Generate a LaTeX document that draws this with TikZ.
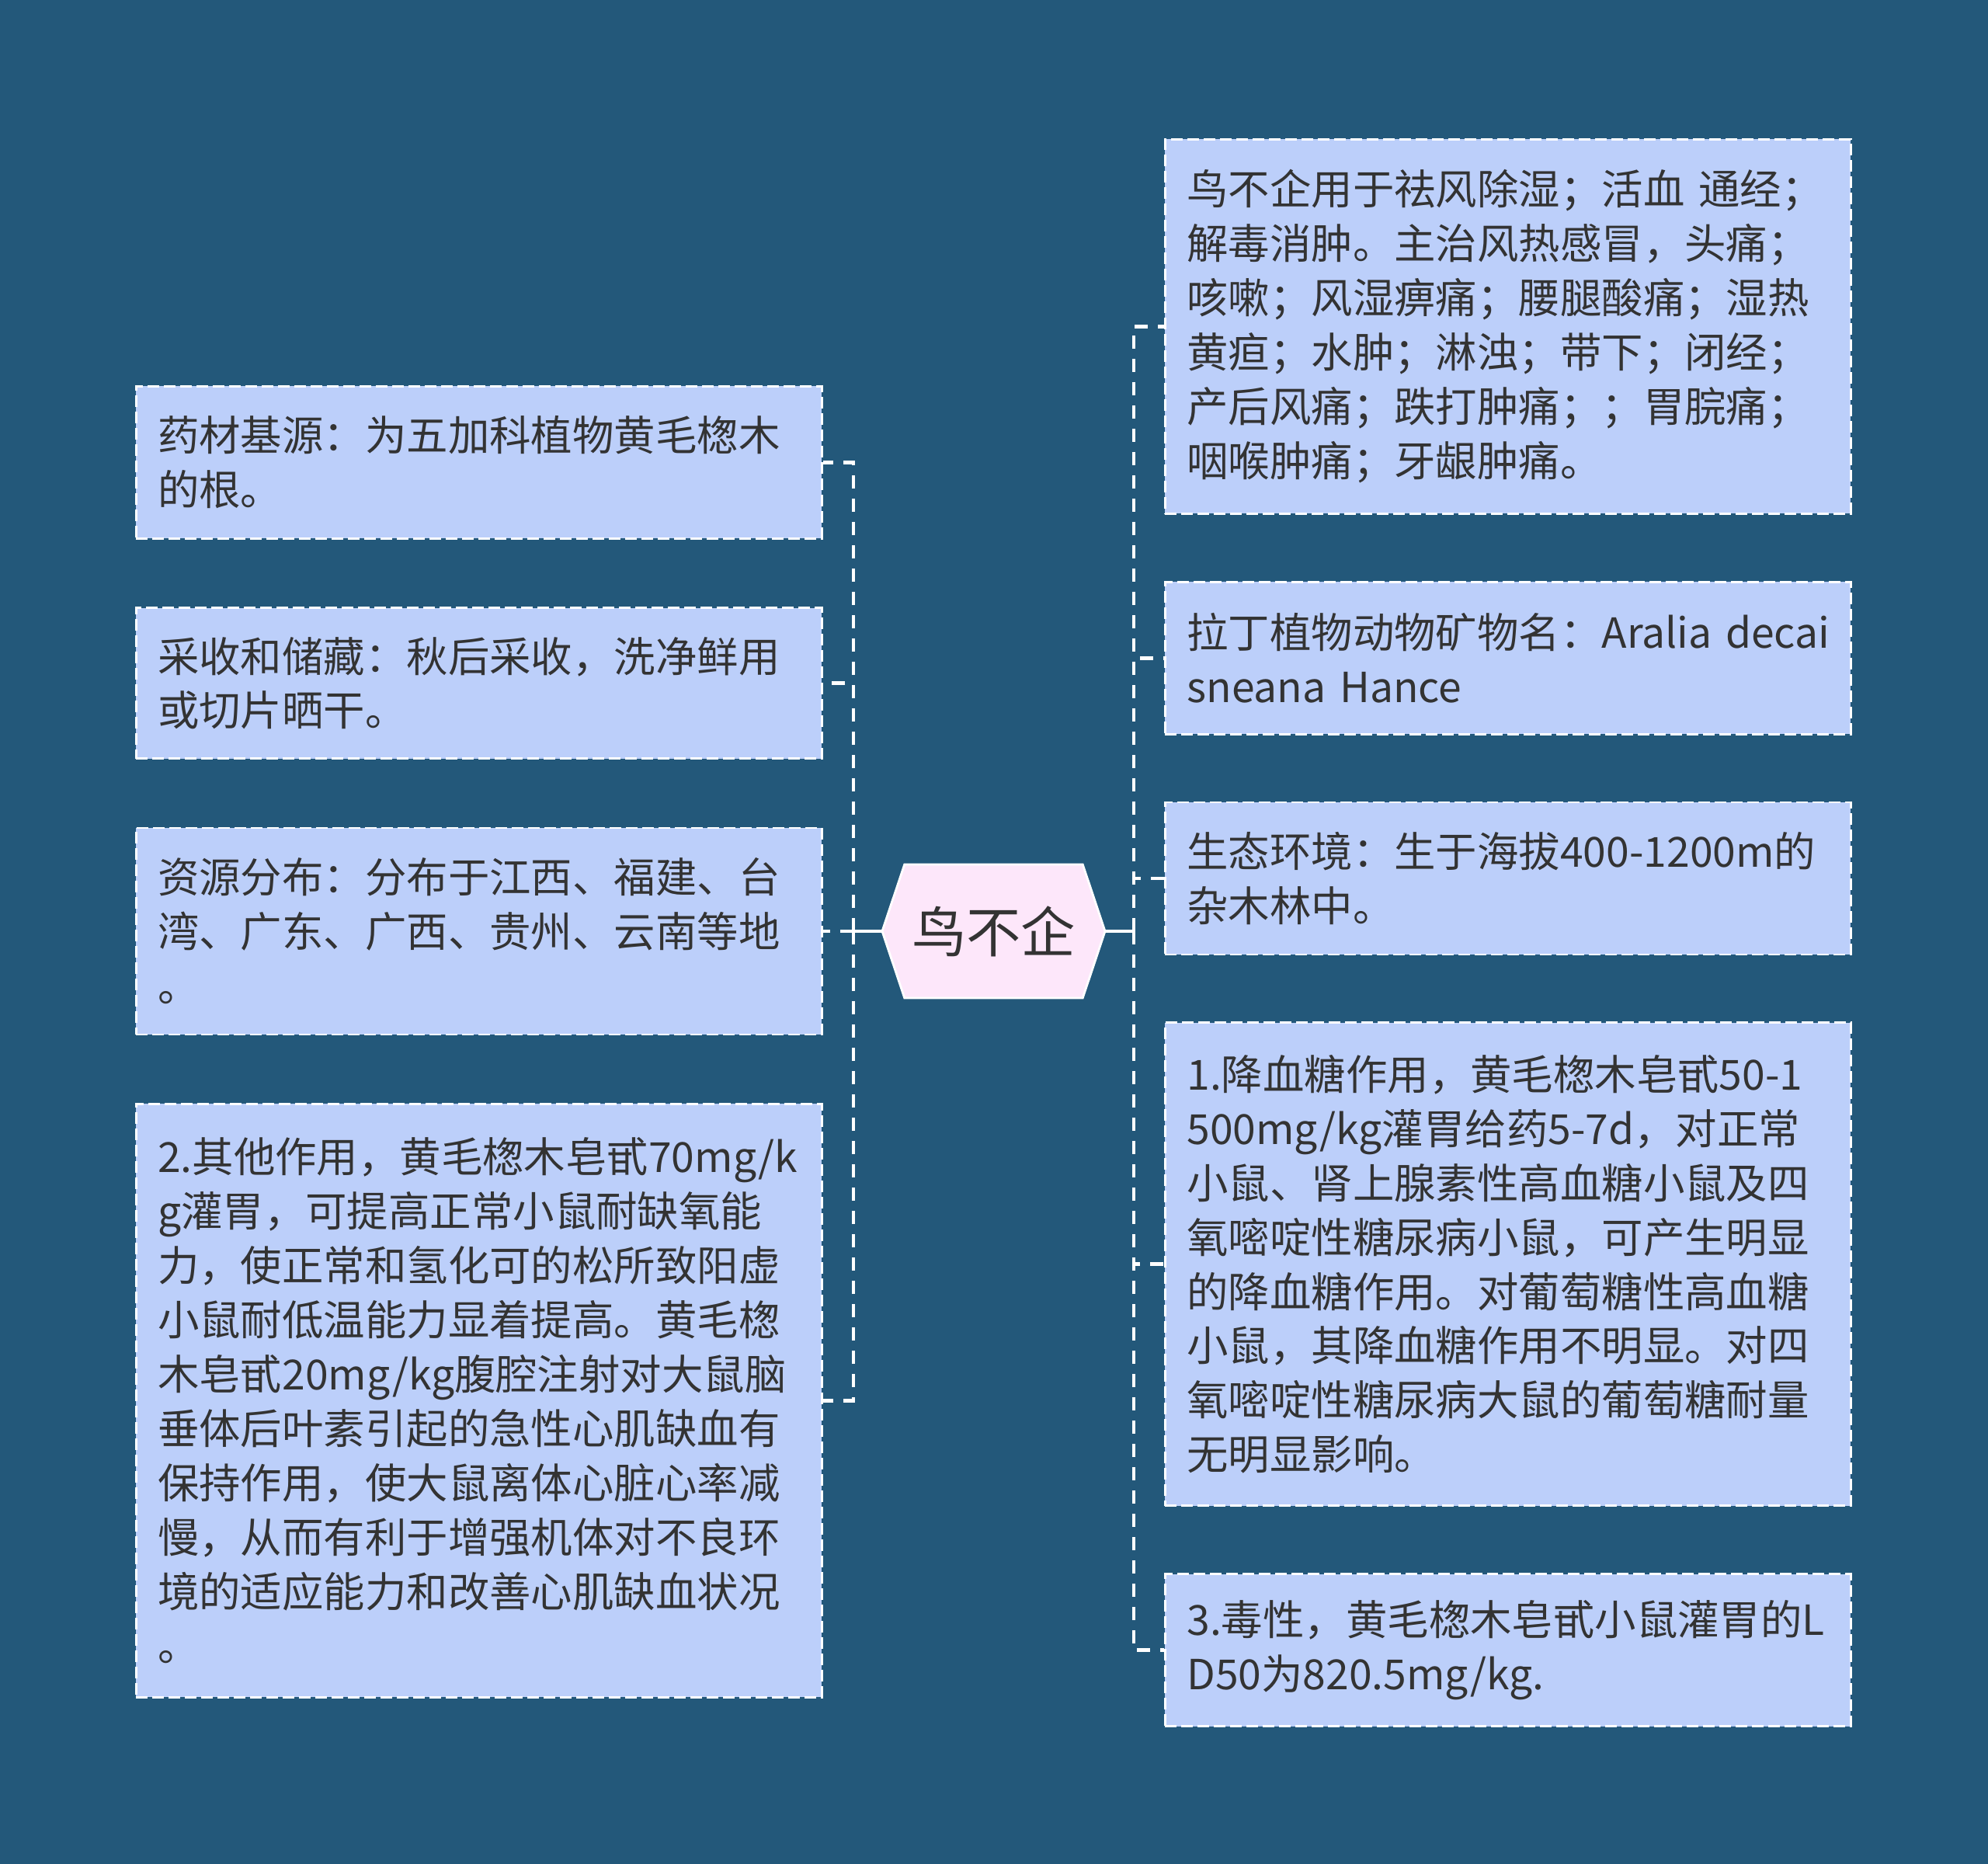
\documentclass[tikz,border=0pt]{standalone}
\usepackage{fontspec}
\setmainfont{Noto Sans CJK SC}
\usepackage{tikz}
\usetikzlibrary{positioning,shapes.symbols}
\usepackage{xcolor}
\definecolor{mapnavy}{HTML}{23587A}
\definecolor{mapleaf}{HTML}{BCCFFA}
\definecolor{mappink}{HTML}{FDE7FA}
\definecolor{mapink}{HTML}{333333}
\tikzset{
  hubbox/.style={
    shape=signal,
    signal to=east and west,
    signal pointer angle=143,
    draw=white,
    fill=mappink,
    line width=0.8pt,
    minimum width=2.87cm,
    minimum height=1.72cm,
    inner sep=0pt,
    text=mapink,
    font=\fontsize{20pt}{24pt}\selectfont
  },
  leafbox/.style={
    draw=white,
    fill=mapleaf,
    line width=0.8pt,
    dash pattern=on 0.15cm off 0.06cm,
    text width=8.27cm,
    inner xsep=0.28cm,
    inner ysep=0pt,
    minimum width=8.83cm,
    align=left,
    text=mapink,
    font=\fontsize{15.2pt}{19.9pt}\selectfont
  },
  trunk/.style={
    draw=white,
    line width=1.4pt
  },
  twig/.style={
    trunk,
    dash pattern=on 0.17cm off 0.13cm
  }
}

\begin{document}
\begin{tikzpicture}[node distance=0.865cm]
\fill[mapnavy] (0,0) rectangle (25.6,-24);
\node[hubbox] (hub) at (12.795,-11.99) {鸟不企};
% left branch
\node[leafbox, minimum height=2.66cm, left=0.75cm of hub] (spread) {资源分布：分布于江西、福建、台\\湾、广东、广西、贵州、云南等地\\。};
\node[leafbox, minimum height=1.94cm, above=of spread] (store) {采收和储藏：秋后采收，洗净鲜用\\或切片晒干。};
\node[leafbox, minimum height=1.96cm, above=of store] (origin) {药材基源：为五加科植物黄毛楤木\\的根。};
\node[leafbox, minimum height=7.64cm, below=of spread] (other) {2.其他作用，黄毛楤木皂甙70mg/k\\g灌胃，可提高正常小鼠耐缺氧能\\力，使正常和氢化可的松所致阳虚\\小鼠耐低温能力显着提高。黄毛楤\\木皂甙20mg/kg腹腔注射对大鼠脑\\垂体后叶素引起的急性心肌缺血有\\保持作用，使大鼠离体心脏心率减\\慢，从而有利于增强机体对不良环\\境的适应能力和改善心肌缺血状况\\。};
% right branch
\node[leafbox, minimum height=4.82cm, anchor=north west] (usage) at (14.99,-1.78) {鸟不企用于祛风除湿；活血 通经；\\解毒消肿。主治风热感冒，头痛；\\咳嗽；风湿痹痛；腰腿酸痛；湿热\\黄疸；水肿；淋浊；带下；闭经；\\产后风痛；跌打肿痛；；胃脘痛；\\咽喉肿痛；牙龈肿痛。};
\node[leafbox, minimum height=1.96cm, below=0.85cm of usage] (latin) {\mbox{拉丁植物动物矿物名：Aralia decai}\\sneana Hance};
\node[leafbox, minimum height=1.96cm, below=0.85cm of latin] (habitat) {生态环境：生于海拔400-1200m的\\杂木林中。};
\node[leafbox, minimum height=6.22cm, below=0.85cm of habitat] (sugar) {1.降血糖作用，黄毛楤木皂甙50-1\\500mg/kg灌胃给药5-7d，对正常\\小鼠、肾上腺素性高血糖小鼠及四\\氧嘧啶性糖尿病小鼠，可产生明显\\的降血糖作用。对葡萄糖性高血糖\\小鼠，其降血糖作用不明显。对四\\氧嘧啶性糖尿病大鼠的葡萄糖耐量\\无明显影响。};
\node[leafbox, minimum height=1.96cm, below=0.85cm of sugar] (toxic) {3.毒性，黄毛楤木皂甙小鼠灌胃的L\\D50为820.5mg/kg.};
% connectors
\coordinate (ljoin) at (10.99,-11.99);
\coordinate (rjoin) at (14.60,-11.99);
\draw[trunk] (hub.west) -- (ljoin);
\draw[trunk] (hub.east) -- (rjoin);
\foreach \leaf in {origin,store,spread,other}
  \draw[twig] (ljoin) |- (\leaf.east);
\foreach \leaf in {usage,latin,habitat,sugar,toxic}
  \draw[twig] (rjoin) |- (\leaf.west);
\end{tikzpicture}
\end{document}
